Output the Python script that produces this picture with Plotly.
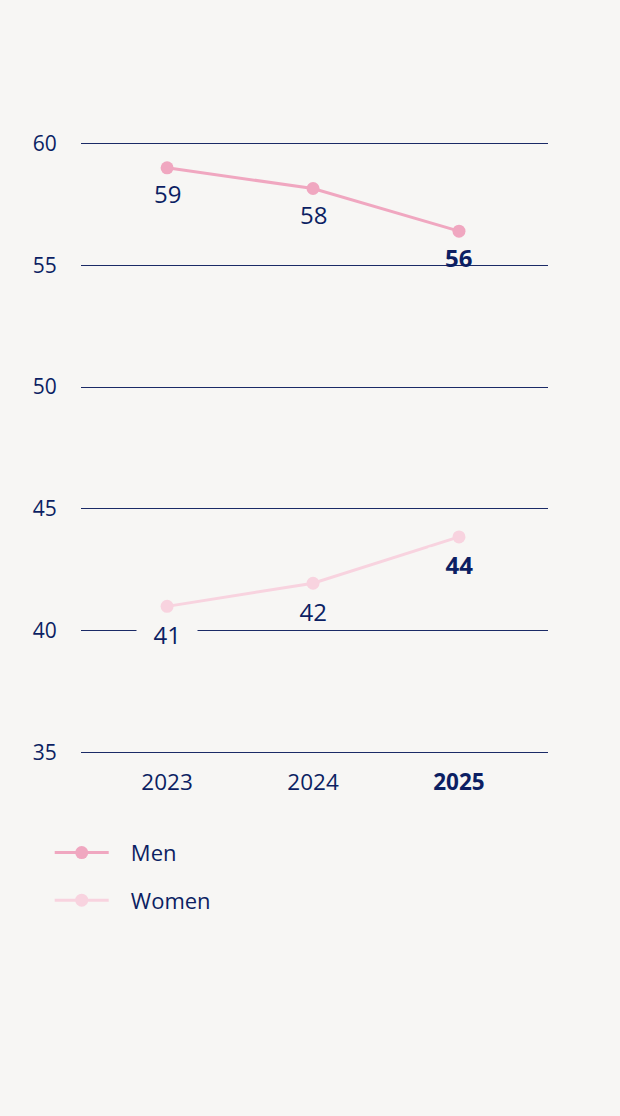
import plotly.graph_objects as go

years = ["2023", "2024", "2025"]
men = [59.0, 58.15, 56.4]
women = [41.0, 41.95, 43.85]
men_labels = ["59", "58", "<b>56</b>"]
women_labels = ["41", "42", "<b>44</b>"]
year_ticktext = ["2023", "2024", "<b>2025</b>"]
y_ticks = [35, 40, 45, 50, 55, 60]
series_names = ["Men", "Women"]

BG = "#f7f6f4"
NAVY = "#0c1f63"
MEN_C = "#f0a7c0"
WOMEN_C = "#f8d3df"
FONT = "Open Sans"
NB = "\u00a0"

fig = go.Figure()
for name, vals, col, grp in ((series_names[0], men, MEN_C, "m"),
                             (series_names[1], women, WOMEN_C, "w")):
    fig.add_trace(go.Scatter(
        x=years, y=vals, name=NB * 3 + name, mode="lines+markers",
        line=dict(color=col, width=3), marker=dict(color=col, size=13),
        legendgroup=grp, hoverinfo="skip"))

annotations = []
for series, labels, bg, pad, shift in (
        (men, men_labels, "rgba(0,0,0,0)", "", -26),
        (women, women_labels, BG, NB * 2 + "\u2009", -28)):
    for i, (yv, t) in enumerate(zip(series, labels)):
        annotations.append(dict(
            xref="x", yref="y", x=i, y=yv, text=pad + t + pad,
            showarrow=False, yshift=shift, yanchor="middle", xanchor="center",
            font=dict(family=FONT, size=24, color=NAVY),
            bgcolor=bg, borderpad=0))

fig.update_layout(
    width=620, height=1116,
    paper_bgcolor=BG, plot_bgcolor=BG,
    margin=dict(l=81, r=72, t=141, b=361),
    font=dict(family=FONT, color=NAVY, size=21),
    showlegend=True,
    annotations=annotations,
    legend=dict(
        x=-0.067, xanchor="left", y=-0.125, yanchor="top",
        bgcolor="rgba(0,0,0,0)", font=dict(family=FONT, size=22, color=NAVY),
        itemwidth=54, tracegroupgap=16, orientation="v"),
)
fig.update_xaxes(
    type="category", range=[-0.59, 2.61],
    tickvals=years, ticktext=year_ticktext,
    showgrid=False, zeroline=False, showline=False,
    ticks="outside", ticklen=7, tickcolor="rgba(0,0,0,0)",
    tickfont=dict(family=FONT, size=22.5, color=NAVY),
    fixedrange=True)
fig.update_yaxes(
    range=[34.9, 60.1], tickvals=y_ticks,
    showgrid=True, gridcolor="#1b2a66", gridwidth=1,
    zeroline=False, showline=False,
    ticks="outside", ticklen=19, tickcolor="rgba(0,0,0,0)",
    tickfont=dict(family=FONT, size=21, color=NAVY),
    fixedrange=True)

fig.write_html("out.html", config={"displayModeBar": False},
               post_script="document.body.style.margin='0';document.body.style.background='%s';" % BG)
